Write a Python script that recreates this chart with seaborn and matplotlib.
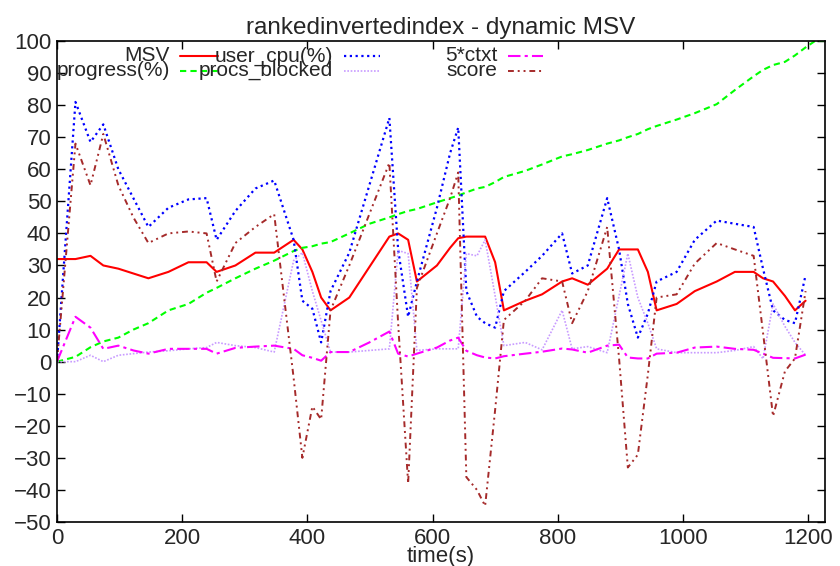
import matplotlib
matplotlib.use("Agg")
import matplotlib.pyplot as plt
import seaborn as sns
from matplotlib.lines import Line2D

# ---- data ----
time = [0, 29.5, 53.5, 74, 98, 122, 146, 178, 210, 239, 255, 285, 317, 347, 378,
        392, 408, 422, 437, 467, 499, 531, 545, 561, 575, 607, 628, 641, 654, 671,
        684, 700, 714, 748, 775, 807, 823, 848, 879, 898, 912, 928, 944, 958, 990,
        1019, 1054, 1083, 1113, 1128, 1144, 1163, 1179, 1196]

msv = [32, 32, 33, 30, 29, 27.5, 26, 28, 31, 31, 28, 30, 34, 34, 38,
       35, 28, 20, 16, 20, 29.5, 39, 40, 38, 25, 30, 35.5, 38.5, 39, 39,
       39, 31, 16, 19, 21, 25, 26, 24, 29, 35, 35, 35, 28, 16, 18,
       22, 25, 28, 28, 26, 25, 20.5, 16, 19]

user_cpu = [0, 81, 68.5, 74, 60, 51, 42, 48, 50.6, 51, 38, 47, 54, 56.5, 38,
            19, 16.5, 6, 22, 34, 55, 76, 35, 14, 25, 48, 65, 73, 22, 14,
            12, 10.6, 22, 28, 33, 40, 27.5, 30, 51, 35, 18, 7.5, 15, 25, 28,
            38, 44, 43, 42, 29, 16, 13, 12, 27]

ctxt5 = [0, 14, 10.6, 4, 5, 3.5, 2.5, 4, 4, 4, 2.5, 4.3, 4.7, 5, 4,
         2, 1.2, 0.3, 3, 3, 6, 9.4, 2.5, 1.6, 2.5, 4.4, 6.6, 7.5, 3.4, 2,
         1.3, 1, 1.7, 2.5, 3.1, 4.1, 3.8, 2.8, 5, 5.3, 1.3, 1, 1, 2.5, 2.8,
         4.4, 4.7, 4, 3.7, 2.5, 1.2, 1.1, 1, 2.2]

procs_blocked = [0, 0, 2, 0, 2, 2.5, 3, 3.4, 4, 4.4, 6, 5, 4.4, 3, 31.5,
                 34, 22, 12.8, 3, 3, 3.5, 4, 34.7, 33.7, 3.5, 4, 4, 4, 33.7, 33,
                 38, 20.5, 5, 6, 3.7, 16, 4, 4.7, 2.8, 20.5, 33.7, 20, 12, 4, 2.8,
                 2.8, 2.8, 3.5, 4.7, 0.9, 18, 11, 6, 2]

score = [0, 68, 55, 71, 55, 45, 37, 40, 40.6, 40, 25, 37, 42, 46, -5,
         -30, -14, -18, 16, 30, 46, 62, 12, -38, 23, 40, 51, 59, -36, -40,
         -45, -15, 13, 19, 26, 25, 12, 22, 42, 1, -33, -29, -4, 20, 21,
         30.6, 37, 35, 33, 9, -17, -3, 1, 22]

time_progress = time + [1211, 1227]
progress = [0, 1.5, 4.5, 6.3, 7.5, 10, 12, 16, 18, 21.5, 23, 26, 29, 31.5, 34.5,
            35.5, 36, 36.8, 37.3, 40, 43, 45, 46, 47, 47.6, 49.7, 51, 51.8, 52.8, 54,
            54.5, 56, 57.6, 59.5, 61.5, 64, 64.7, 66, 68, 69, 70, 71, 72.5, 73.5, 75.5,
            77.5, 80.3, 84.7, 89, 91, 92.5, 93.5, 95.5, 98, 100, 100]

title = "rankedinvertedindex - dynamic MSV"
xlabel = "time(s)"
xticks = [0, 200, 400, 600, 800, 1000, 1200]
yticks = list(range(-50, 101, 10))

# ---- styling ----
sns.set_style("ticks")
plt.rcParams['font.family'] = ['Liberation Sans', 'DejaVu Sans']
plt.rcParams['xtick.direction'] = 'in'
plt.rcParams['ytick.direction'] = 'in'

fig = plt.figure(figsize=(8.4, 5.66), dpi=100)
ax = fig.add_axes([57/840, 1 - 522/566, 768/840, 481/566])

series = [
    ("MSV", time, msv, "#ff0000", "-", 1.5),
    ("progress(%)", time_progress, progress, "#00ff00", (0, (3, 2)), 1.5),
    ("user_cpu(%)", time, user_cpu, "#0000ff", (0, (1, 1.6)), 1.6),
    ("procs_blocked", time, procs_blocked, "#c89bff", (0, (1, 1)), 1.2),
    ("5*ctxt", time, ctxt5, "#ff00ff", (0, (6, 2, 1.5, 2)), 1.5),
    ("score", time, score, "#a52a2a", (0, (3, 2, 1, 2, 1, 2)), 1.4),
]

for name, xs, ys, col, ls, lw in series:
    sns.lineplot(x=xs, y=ys, color=col, linestyle=ls, linewidth=lw,
                 ax=ax, sort=False, errorbar=None)

ax.set_xlim(0, 1227)
ax.set_ylim(-50, 100)
ax.set_xticks(xticks)
ax.set_yticks(yticks)
ax.tick_params(axis='both', which='both', direction='in', length=6, width=1,
               labelsize=16, top=True, right=True, color='black', pad=4)
for s in ax.spines.values():
    s.set_visible(True)
    s.set_linewidth(1.2)
    s.set_color('black')

ax.set_title(title, fontsize=17.5, pad=5)
ax.set_xlabel(xlabel, fontsize=16, labelpad=-2)
ax.set_ylabel("")

# gnuplot-style key: text right-aligned, sample to its right, 3 columns x 2 rows
key_cols = [(0.147, 0.160, 0.210), (0.359, 0.374, 0.421), (0.573, 0.587, 0.633)]
key_rows = [0.969, 0.938]
for i, (name, xs, ys, col, ls, lw) in enumerate(series):
    c = key_cols[i // 2]
    r = key_rows[i % 2]
    ax.text(c[0], r, name, transform=ax.transAxes, ha='right', va='center',
            fontsize=15)
    ax.add_line(Line2D([c[1], c[2]], [r, r], transform=ax.transAxes,
                       color=col, linestyle=ls, linewidth=lw))

fig.savefig("out.png", dpi=100)
